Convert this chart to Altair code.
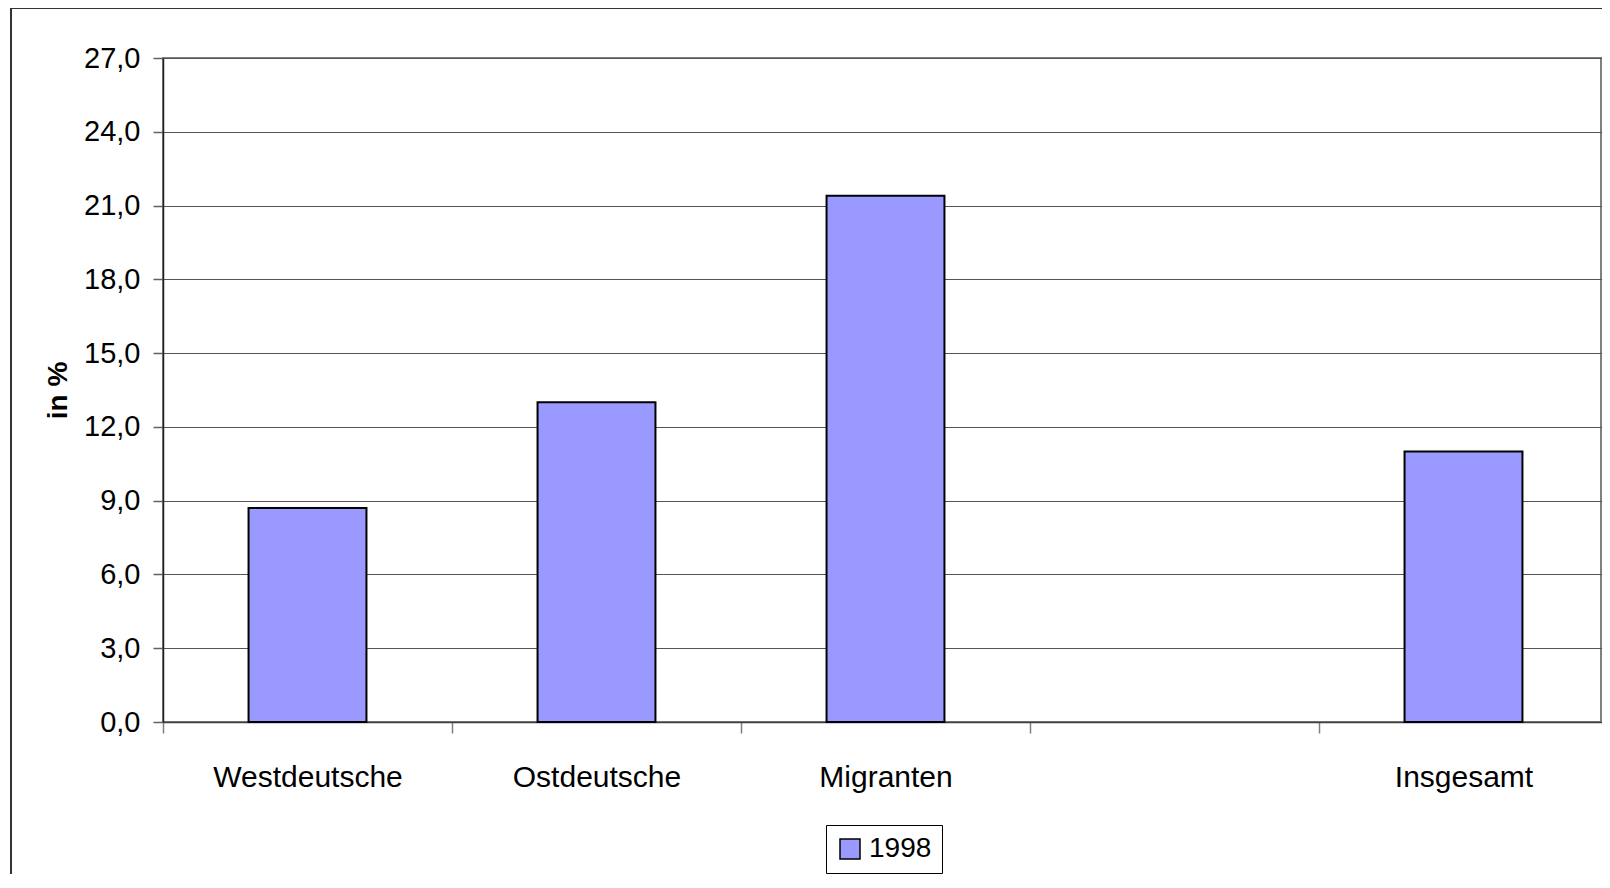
import altair as alt
import pandas as pd

# --- data ---
categories = ["Westdeutsche", "Ostdeutsche", "Migranten", "Insgesamt"]
axis_slots = ["Westdeutsche", "Ostdeutsche", "Migranten", " ", "Insgesamt"]
values = [8.7, 13.0, 21.4, 11.0]
series = ["1998", "1998", "1998", "1998"]
y_ticks = [0, 3, 6, 9, 12, 15, 18, 21, 24, 27]

df = pd.DataFrame({"Gruppe": categories, "Wert": values, "Jahr": series})

W, H = 1438, 664          # visible plot area (page keeps 8px margins)
RANGE_W = 1445            # category range of the original (last tick just off-page)
FONT = "Liberation Sans"
P_IN = 0.592
STEP = RANGE_W / len(axis_slots)
BW = STEP * (1 - P_IN)
HALF_GAP = STEP * P_IN / 2

bars = alt.Chart(df).mark_bar(stroke="black", strokeWidth=2).encode(
    x=alt.X(
        "Gruppe:N",
        sort=axis_slots,
        scale=alt.Scale(domain=axis_slots, range=[0, RANGE_W],
                        paddingInner=P_IN, paddingOuter=P_IN / 2),
        axis=alt.Axis(
            title=None, bandPosition=STEP / BW, tickExtra=True, tickOffset=-HALF_GAP,
            labelOffset=HALF_GAP, labelLimit=400,
            tickSize=11, tickColor="#808080",
            tickWidth=1.5, labelPadding=29, labelFontSize=30, labelFont=FONT,
            labelColor="black", labelAngle=0, domainColor="#404040",
            domainWidth=1.5, grid=False,
        ),
    ),
    y=alt.Y(
        "Wert:Q",
        scale=alt.Scale(domain=[0, 27], nice=False, zero=True),
        axis=alt.Axis(
            values=y_ticks,
            labelExpr="replace(format(datum.value, '.1f'), '.', ',')",
            title="in %", titleFont=FONT, titleFontSize=28, titleFontWeight="bold",
            titleColor="black", titlePadding=11,
            labelFont=FONT, labelFontSize=29, labelColor="black", labelPadding=13,
            tickSize=10, tickColor="#606060", tickWidth=1.5,
            domainColor="#222222", domainWidth=1.5,
            grid=True, gridColor="#555555", gridWidth=1.2,
        ),
    ),
    color=alt.Color(
        "Jahr:N",
        scale=alt.Scale(range=["#9999FF"]),
        legend=alt.Legend(
            title=None, orient="none", legendX=663, legendY=767,
            symbolType="square", symbolSize=400, symbolStrokeColor="black",
            symbolStrokeWidth=1.5, symbolOpacity=1,
            labelFont=FONT, labelFontSize=28, labelColor="black", labelOffset=5,
            strokeColor="black", fillColor="white", padding=10,
        ),
    ),
)

frame = alt.Chart(alt.Data(values=[{}])).mark_rect(
    fillOpacity=0, stroke="#333333", strokeWidth=2
).encode(
    x=alt.value(-152), x2=alt.value(W + 300),
    y=alt.value(-50), y2=alt.value(H + 400),
)

chart = alt.layer(frame, bars).properties(
    width=W, height=H,
    autosize=alt.AutoSizeParams(type="none"),
    padding={"left": 155, "top": 50, "right": 1, "bottom": 152},
    background="white",
).configure_view(stroke="#808080", strokeWidth=2)

chart.save("out.html", embed_options={"renderer": "svg", "actions": False})
